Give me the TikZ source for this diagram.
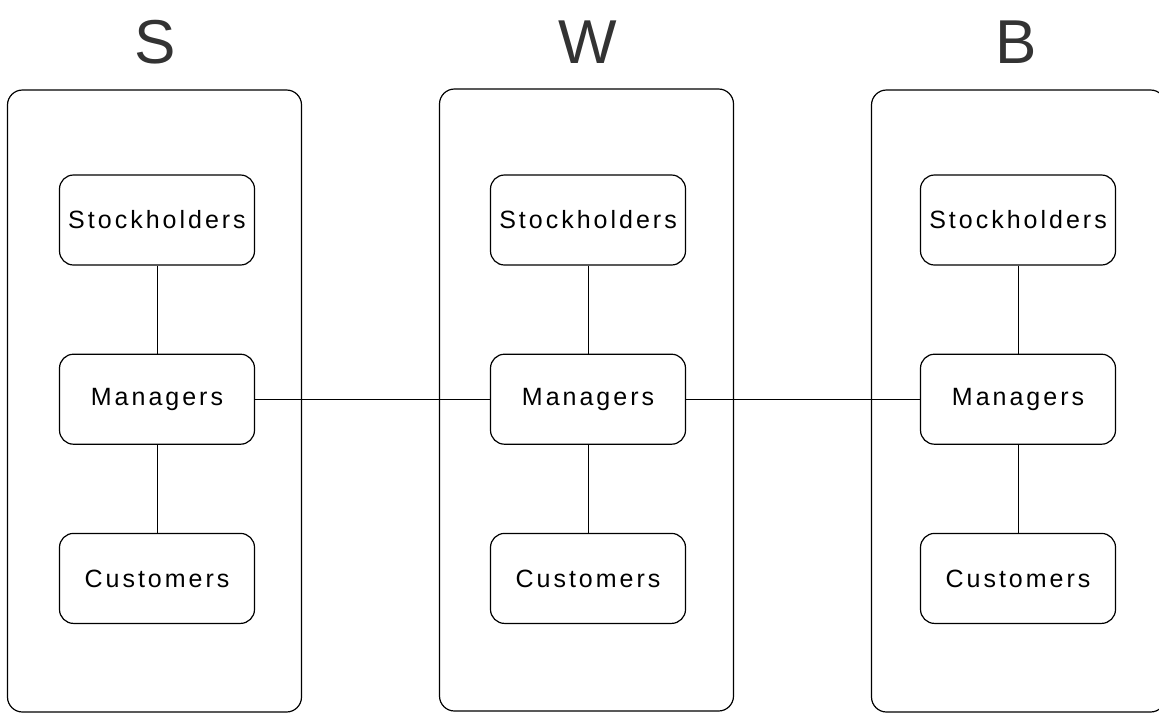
\documentclass[tikz,border=0pt]{standalone}
\usepackage{fontspec}
\newfontfamily\boxfont[LetterSpace=12]{Liberation Sans}
\newfontfamily\headfont{Liberation Sans}
\usetikzlibrary{positioning}

\begin{document}
\begin{tikzpicture}[
        x=0.5pt, y=-0.5pt,
        outerbox/.style={
            draw=black,
            line width=0.6pt,
            rounded corners=7.5pt,
            minimum width=147pt,
            minimum height=311pt,
            inner sep=0pt},
        innerbox/.style={
            draw=black,
            line width=0.6pt,
            rounded corners=7pt,
            minimum width=97.5pt,
            minimum height=45pt,
            inner sep=0pt,
            font=\boxfont\fontsize{12.5}{15}\selectfont},
        title/.style={font=\headfont\fontsize{31}{36}\selectfont, text=black!80},
        link/.style={line width=0.5pt},
        node distance=44pt
        ]
        \useasboundingbox (0,0) rectangle (1159,713);

        % the three firms
        \node[outerbox] (sframe) at (154.5,401) {};
        \node[outerbox] (wframe) at (586.5,400) {};
        \node[outerbox] (bframe) at (1018.5,401) {};

        \node[title] (stitle) at (155,42) {S};
        \node[title] (wtitle) at (588,42) {W};
        \node[title] (btitle) at (1016,42) {B};

        \foreach \f/\x in {s/157, w/588, b/1018} {
            \node[innerbox] (\f stock) at (\x,220) {Stockholders};
            \node[innerbox,below=of \f stock] (\f man) {Managers};
            \node[innerbox,below=of \f man] (\f cust) {Customers};
        }

        \foreach \i/\j in {% start node/end node
            sstock/sman,
            sman/scust,
            wstock/wman,
            wman/wcust,
            bstock/bman,
            bman/bcust,
            sman/wman,
            wman/bman}
            \draw [link] (\i) -- (\j);
\end{tikzpicture}
\end{document}
